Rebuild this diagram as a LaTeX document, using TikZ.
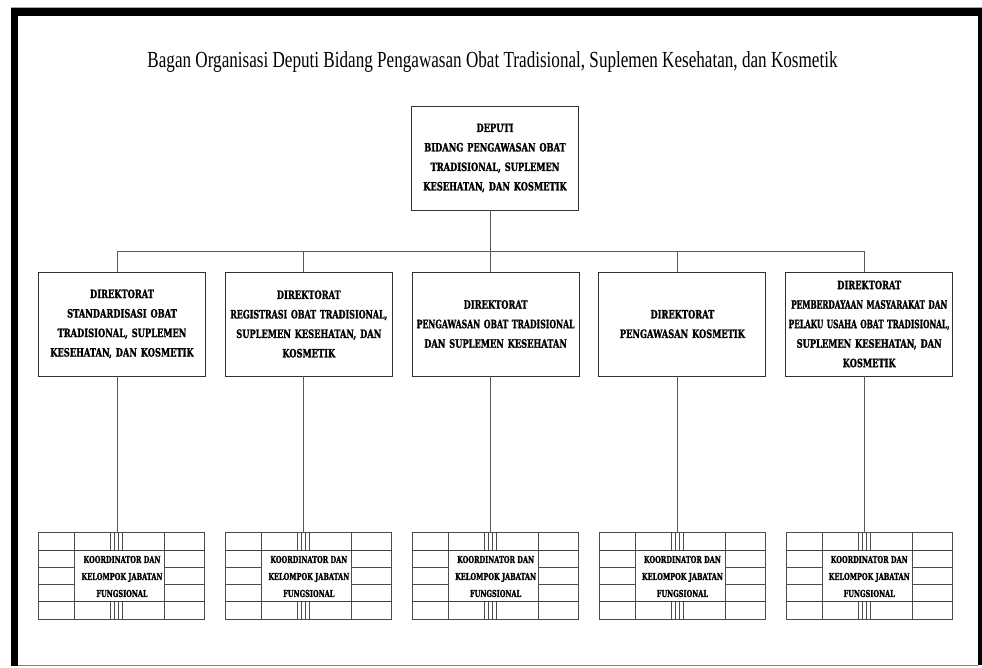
\documentclass[tikz,border=0pt]{standalone}
\usepackage{fontspec}
\setmainfont{Liberation Serif}
\newfontfamily\titlefont{Liberation Serif}
\newfontfamily\boxfont{DejaVu Serif Bold}[FakeStretch=0.72, FakeBold=1.2]
\newfontfamily\gridfont{DejaVu Serif Bold}[FakeStretch=0.69, FakeBold=1.2]
\newcommand\narrowline[2]{\scalebox{#1}[1]{#2}}
\usetikzlibrary{calc}
\tikzset{
  box/.style={draw=black!80, line width=0.9pt, fill=white, text width=163pt,
    minimum height=104pt, align=center, inner sep=2pt,
    font=\boxfont\fontsize{11.5}{19.5}\selectfont},
  conn/.style={draw=black!65, line width=0.8pt},
  gline/.style={draw=black!70, line width=0.7pt},
  gthick/.style={draw=black!75, line width=1.3pt},
  gtext/.style={align=center, inner sep=0pt,
    font=\gridfont\fontsize{9.5}{17}\selectfont},
  gridnode/.style={draw=none, minimum width=166pt, minimum height=87pt, inner sep=0pt}
}
\begin{document}
\begin{tikzpicture}[x=1pt,y=-1pt]
\useasboundingbox (0,0) rectangle (982,668);
\fill[white] (0,0) rectangle (982,668);
% frame
\draw[black!35, line width=1pt] (11,7.5) -- (982,7.5);
\fill[black] (11,8) rectangle (982,16);
\fill[black] (11,8) rectangle (18,666);
\fill[black] (978,8) rectangle (982,665);
\draw[black!50, line width=1pt] (18,665) -- (978,665);
% title
\node[anchor=base, inner sep=0pt, font=\titlefont] (title) at (492.5,68)
  {\scalebox{0.744}[1]{\fontsize{23}{23}\selectfont Bagan Organisasi Deputi Bidang Pengawasan Obat Tradisional, Suplemen Kesehatan, dan Kosmetik}};
% deputy
\node[box] (dep) at (495,158) {DEPUTI\\BIDANG PENGAWASAN OBAT\\TRADISIONAL, SUPLEMEN\\KESEHATAN, DAN KOSMETIK};
% directorates
\node[box] (d1) at (122,324) {DIREKTORAT\\STANDARDISASI OBAT\\TRADISIONAL, SUPLEMEN\\KESEHATAN, DAN KOSMETIK};
\node[box] (d2) at (308.8,324) {DIREKTORAT\\\narrowline{0.96}{REGISTRASI OBAT TRADISIONAL,}\\SUPLEMEN KESEHATAN, DAN\\KOSMETIK};
\node[box] (d3) at (495.6,324) {DIREKTORAT\\\narrowline{0.93}{PENGAWASAN OBAT TRADISIONAL}\\DAN SUPLEMEN KESEHATAN};
\node[box] (d4) at (682.4,324) {DIREKTORAT\\PENGAWASAN KOSMETIK};
\node[box] (d5) at (869.2,324) {DIREKTORAT\\\narrowline{0.89}{PEMBERDAYAAN MASYARAKAT DAN}\\\narrowline{0.89}{PELAKU USAHA OBAT TRADISIONAL,}\\SUPLEMEN KESEHATAN, DAN\\KOSMETIK};
% connectors
\coordinate (bus) at (0,251);
\coordinate (t0) at ([xshift=-5pt]dep.south);
\draw[conn] (t0) -- (t0 |- bus);
\foreach \i in {1,...,5}{
  \coordinate (t\i) at ([xshift=-5pt]d\i.north);
  \draw[conn] (t\i |- bus) -- (t\i);
}
\draw[conn] (t1 |- bus) -- (t5 |- bus);
% functional groups
\foreach \i/\x in {1/122,2/308.8,3/495.6,4/682.4,5/869.2}{
  \node[gridnode] (k\i) at (\x,576.5) {};
  \coordinate (b\i) at ([xshift=-5pt]d\i.south);
  \draw[conn] (b\i) -- (b\i |- k\i.north);
  \begin{scope}[shift={(k\i.north west)}]
    \draw[gline] (0,0) rectangle (166,87);
    \draw[gline] (36,0) -- (36,87);
    \draw[gline] (126,0) -- (126,87);
    \foreach \yy in {35,52}{
      \draw[gline] (0,\yy) -- (36,\yy);
      \draw[gline] (126,\yy) -- (166,\yy);
    }
    \foreach \xx in {72,76,80,84}{
      \draw[gline] (\xx,0) -- (\xx,17.5);
      \draw[gline] (\xx,69) -- (\xx,87);
    }
    \draw[gthick] (0,17.5) -- (166,17.5);
    \draw[gthick] (0,69) -- (166,69);
  \end{scope}
  \node[gtext] (kt\i) at (k\i.center) {KOORDINATOR DAN\\KELOMPOK JABATAN\\FUNGSIONAL};
}
\end{tikzpicture}
\end{document}
